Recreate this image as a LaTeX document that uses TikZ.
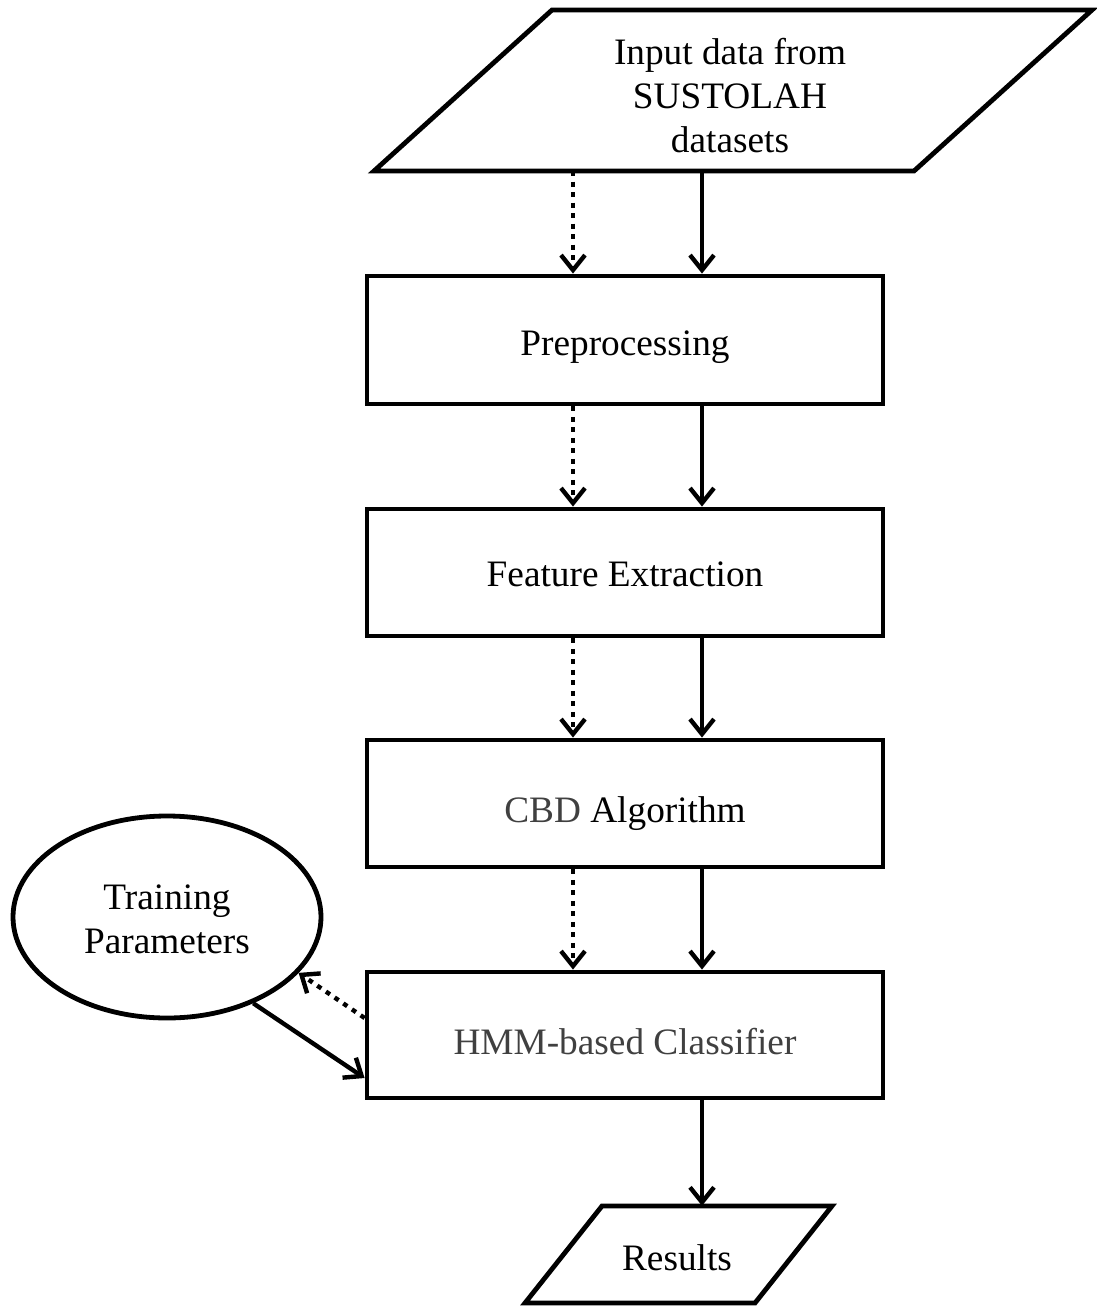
\documentclass[tikz,border=0pt]{standalone}
\usepackage{fontspec}
\setmainfont{Liberation Serif}
\usetikzlibrary{arrows.meta,shapes.geometric}
\definecolor{txtgray}{HTML}{404040}
% lower a label inside its node without changing the node's size
\newcommand{\dropby}[2]{\raisebox{-#1}[\height][\depth]{#2}}
\begin{document}
\begin{tikzpicture}[x=1pt,y=-1pt,
  every node/.style={font=\fontsize{37.3}{44}\selectfont, align=center},
  stepbox/.style={draw, line width=4.8pt, minimum width=516pt, inner sep=0pt},
  slanted/.style={draw, line width=4.8pt, line join=miter},
  holder/.style={inner sep=0pt, minimum width=20pt},
  flow/.style={line width=4.4pt, -{Straight Barb[length=15pt,width=24pt,line width=4.4pt]}},
  dotflow/.style={flow, dash pattern=on 4.8pt off 5.7pt}]
\useasboundingbox (0,0) rectangle (1096,1306);

% column positions of the two arrow lanes
\coordinate (lane1) at (573,0);
\coordinate (lane2) at (702,0);

% input data (parallelogram)
\node[holder, minimum height=161pt] (inp) at (730,90.5) {\dropby{9pt}{\begin{tabular}{@{}c@{}}Input data from\\SUSTOLAH\\datasets\end{tabular}}};
\draw[slanted] (374,171) -- (914,171) -- (1092,10) -- (552,10) -- cycle;

% processing steps
\node[stepbox, minimum height=128pt] (pre) at (625,340) {\dropby{7pt}{Preprocessing}};
\node[stepbox, minimum height=127pt] (fe)  at (625,572.5) {\dropby{2pt}{Feature Extraction}};
\node[stepbox, minimum height=127pt] (cbd) at (625,803.5) {\dropby{10pt}{\textcolor{txtgray}{CBD} Algorithm}};
\node[stepbox, minimum height=126pt, text=txtgray] (hmm) at (625,1035) {\dropby{7pt}{HMM-based Classifier}};

% training parameters
\node[ellipse, draw, line width=4.8pt, minimum width=308pt, minimum height=202pt, inner sep=0pt] (tp) at (167,917) {\dropby{6pt}{\begin{tabular}{@{}c@{}}Training\\Parameters\end{tabular}}};

% results (parallelogram)
\node[holder, minimum height=97pt] (res) at (677,1254.5) {\dropby{3pt}{Results}};
\draw[slanted] (525,1303) -- (755,1303) -- (832,1206) -- (602,1206) -- cycle;

% connectors
\foreach \a/\b in {inp/pre, pre/fe, fe/cbd, cbd/hmm} {
  \draw[dotflow] (\a.south -| lane1) -- (\b.north -| lane1);
  \draw[flow] (\a.south -| lane2) -- (\b.north -| lane2);
}
\draw[flow] (hmm.south -| lane2) -- (res.north -| lane2);
\draw[dotflow] ([yshift=17pt]hmm.west) -- (tp.-23);
\draw[flow] (tp.-45) -- ([yshift=-43pt]hmm.west);
\end{tikzpicture}
\end{document}
